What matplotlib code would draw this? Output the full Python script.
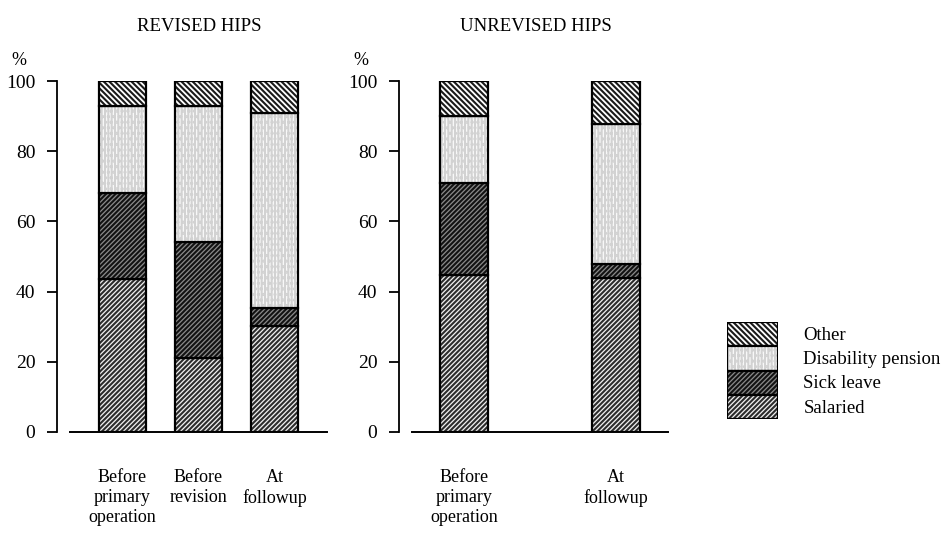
import matplotlib
matplotlib.use('Agg')
import matplotlib.pyplot as plt
from matplotlib.patches import Rectangle

plt.rcParams['font.family'] = ['Liberation Serif', 'DejaVu Serif']
plt.rcParams['hatch.linewidth'] = 1.5

categories = ['Other', 'Disability pension', 'Sick leave', 'Salaried']

# revised hips (percent)
rev_labels = ['Before\nprimary\noperation', 'Before\nrevision', 'At\nfollowup']
rev_salaried = [43.6, 21.1, 30.2]
rev_sick = [24.5, 33.0, 5.1]
rev_disab = [24.8, 38.9, 55.6]
rev_other = [7.1, 7.0, 9.1]

# unrevised hips (percent)
unrev_labels = ['Before\nprimary\noperation', 'At\nfollowup']
unrev_salaried = [44.7, 43.9]
unrev_sick = [26.2, 4.0]
unrev_disab = [19.1, 39.8]
unrev_other = [10.0, 12.3]

# hatch, hatch colour, background
styles = {
    'Salaried': ('///////', '#2c2c2c', '#f0f0f0'),
    'Sick leave': ('///////', '#121212', '#8a8a8a'),
    'Disability pension': ('|||||...', '#d2d2d2', '#fafafa'),
    'Other': ('\\\\\\\\\\\\', '#1a1a1a', 'white'),
}


def stacked(ax, pos, salaried, sick, disab, other):
    bottom = [0] * len(pos)
    for name, vals in [('Salaried', salaried), ('Sick leave', sick),
                       ('Disability pension', disab), ('Other', other)]:
        hatch, hc, bg = styles[name]
        ax.bar(pos, vals, 0.63, bottom=bottom, color=bg, edgecolor=hc,
               hatch=hatch, linewidth=0)
        ax.bar(pos, vals, 0.63, bottom=bottom, fill=False, edgecolor='black',
               linewidth=1.6)
        bottom = [b + v for b, v in zip(bottom, vals)]


def style_axis(ax, title, pos, labels, title_x):
    ax.set_xlim(-0.69, 2.69)
    ax.set_ylim(0, 100)
    ax.set_yticks([0, 20, 40, 60, 80, 100])
    ax.set_xticks(pos)
    ax.set_xticklabels(labels, fontsize=13, linespacing=1.22)
    ax.tick_params(axis='x', length=0, pad=27)
    ax.tick_params(axis='y', length=7, width=1.3, pad=9, labelsize=14)
    ax.spines['top'].set_visible(False)
    ax.spines['right'].set_visible(False)
    ax.spines['left'].set_position(('outward', 9))
    ax.spines['left'].set_linewidth(1.3)
    ax.spines['bottom'].set_linewidth(1.4)
    ax.text(-0.23, 1.035, '%', transform=ax.transAxes, fontsize=13,
            ha='left', va='bottom')
    fig.text(title_x / 945, 1 - 31 / 533, title, fontsize=13.5,
             ha='center', va='baseline')


fig = plt.figure(figsize=(9.45, 5.33), dpi=100)
ax1 = fig.add_axes([70 / 945, 101 / 533, 257 / 945, 351 / 533])
ax2 = fig.add_axes([412 / 945, 101 / 533, 256 / 945, 351 / 533])

rev_pos = [0, 1, 2]
unrev_pos = [0, 2]
stacked(ax1, rev_pos, rev_salaried, rev_sick, rev_disab, rev_other)
stacked(ax2, unrev_pos, unrev_salaried, unrev_sick, unrev_disab, unrev_other)
style_axis(ax1, 'REVISED HIPS', rev_pos, rev_labels, 199)
style_axis(ax2, 'UNREVISED HIPS', unrev_pos, unrev_labels, 536)

# legend: stacked boxes with labels
lax = fig.add_axes([727 / 945, 114 / 533, 51 / 945, 97 / 533])
lax.set_xlim(0, 1)
lax.set_ylim(0, len(categories))
lax.axis('off')
for i, name in enumerate(categories):
    hatch, hc, bg = styles[name]
    y = len(categories) - 1 - i
    lax.add_patch(Rectangle((0, y), 1, 1, facecolor=bg, edgecolor=hc,
                            hatch=hatch, linewidth=0))
    lax.add_patch(Rectangle((0, y), 1, 1, fill=False, edgecolor='black',
                            linewidth=1.6))
    lax.text(1.5, y + 0.45, name, fontsize=13.5, ha='left', va='center',
             clip_on=False)

fig.savefig('out.png', dpi=100)
